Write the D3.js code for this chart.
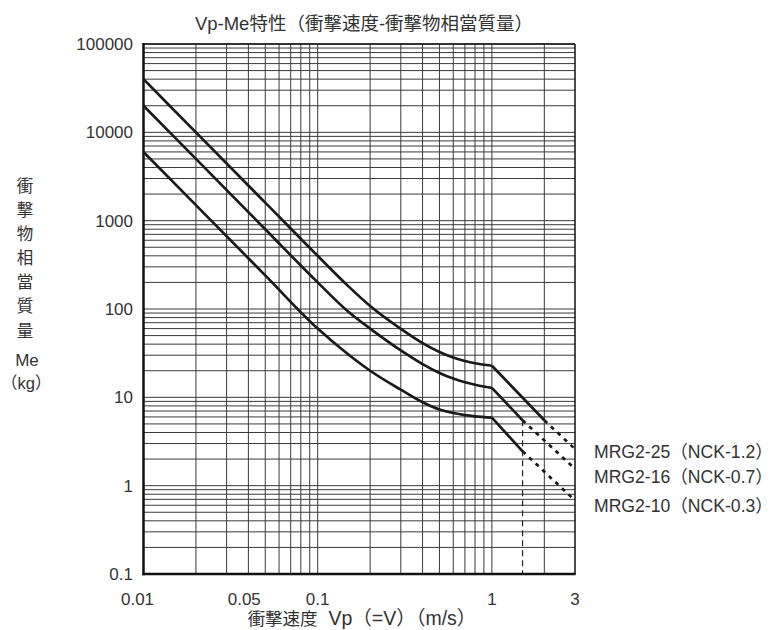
<!DOCTYPE html>
<html>
<head>
<meta charset="utf-8">
<script src="https://cdnjs.cloudflare.com/ajax/libs/d3/7.8.5/d3.min.js"></script>
<style>
  body { margin: 0; background: #fff; }
  text { font-family: "Liberation Sans", Arial, "Noto Sans CJK JP", sans-serif; fill: #333; }
</style>
</head>
<body>
<div id="chart"></div>
<script>
"use strict";

const speeds = [0.01, 0.02, 0.05, 0.1, 0.15, 0.2, 0.3, 0.4, 0.5, 0.6, 0.7, 0.8, 1];
// equivalent mass Me (kg) for each damper, curved part up to 1 m/s
const me25 = [40000, 10000, 1600, 400, 181, 108, 59.5, 41, 32.6, 28.2, 25.8, 24.3, 22.8];
const me16 = [20000, 5000, 800, 200, 93, 60, 34, 23.8, 18.9, 16.3, 14.8, 13.9, 12.8];
const me10 = [6000, 1500, 240, 60, 30.5, 20, 12.2, 8.8, 7.3, 6.65, 6.3, 6.1, 5.9];
// straight part after 1 m/s: [speed, Me] -> kink, end of solid, end of dashed
const tail25 = [[1, 22.8], [2, 5.5], [3, 2.6]];
const tail16 = [[1, 12.8], [1.5, 5.5], [3, 1.55]];
const tail10 = [[1, 5.9], [1.5, 2.45], [3, 0.68]];
const seriesNames = ["MRG2-25（NCK-1.2）", "MRG2-16（NCK-0.7）", "MRG2-10（NCK-0.3）"];
const xTicks = [0.01, 0.05, 0.1, 1, 3];
const yTicks = [0.1, 1, 10, 100, 1000, 10000, 100000];
const limitSpeed = 1.5;
const yTitle = ["衝", "撃", "物", "相", "當", "質", "量"];

function init() {
    draw();
};
window.onload = init;

function draw() {
    const W = 776, H = 630;
    const left = 143.5, right = 575, top = 44, bottom = 574;

    const svg = d3.select("#chart")
        .append("svg")
        .attr("width", W)
        .attr("height", H);

    const x = d3.scaleLog().domain([0.01, 3]).range([left, right]);
    const y = d3.scaleLog().domain([0.1, 100000]).range([bottom, top]);

    // grid: every 1..9 in each decade
    const grid = svg.append("g").attr("stroke", "#3a3a3a").attr("stroke-width", 1);
    grid.selectAll(".vx")
        .data(x.ticks().filter(d => d < 3))
        .join("line")
        .attr("x1", d => x(d)).attr("x2", d => x(d))
        .attr("y1", top).attr("y2", bottom);
    grid.selectAll(".hy")
        .data(y.ticks())
        .join("line")
        .attr("x1", left).attr("x2", right)
        .attr("y1", d => y(d)).attr("y2", d => y(d));

    // dashed limit line
    svg.append("line")
        .attr("x1", x(limitSpeed)).attr("x2", x(limitSpeed))
        .attr("y1", y(5.5)).attr("y2", bottom)
        .attr("stroke", "#222").attr("stroke-width", 1.2)
        .attr("stroke-dasharray", "6,4");

    // frame
    const frame = svg.append("g").attr("stroke", "#111");
    frame.append("line").attr("x1", left).attr("x2", right).attr("y1", top).attr("y2", top).attr("stroke-width", 1.5);
    frame.append("line").attr("x1", right).attr("x2", right).attr("y1", top).attr("y2", bottom).attr("stroke-width", 1.5);
    frame.append("line").attr("x1", left).attr("x2", left).attr("y1", top - 1).attr("y2", bottom + 1.2).attr("stroke-width", 2.5);
    frame.append("line").attr("x1", left - 1.2).attr("x2", right + 0.7).attr("y1", bottom).attr("y2", bottom).attr("stroke-width", 2.5);

    // curves
    const smooth = d3.line().x(d => x(d[0])).y(d => y(d[1])).curve(d3.curveMonotoneX);
    const straight = d3.line().x(d => x(d[0])).y(d => y(d[1]));
    const curves = [me25, me16, me10];
    const tails = [tail25, tail16, tail10];
    const g = svg.append("g").attr("fill", "none").attr("stroke", "#1a1a1a").attr("stroke-width", 2.7);

    curves.forEach(function(vals, i) {
        const pts = speeds.map((s, j) => [s, vals[j]]);
        g.append("path").attr("d", smooth(pts)).attr("stroke-linejoin", "round");
        g.append("path").attr("d", straight(tails[i].slice(0, 2))).attr("stroke-linejoin", "round");
        g.append("path").attr("d", straight(tails[i].slice(1, 3)))
            .attr("stroke-dasharray", "4,5");
    });

    // y tick labels
    svg.selectAll(".ylab")
        .data(yTicks)
        .join("text")
        .attr("x", 133)
        .attr("y", d => y(d))
        .attr("dy", "0.36em")
        .attr("text-anchor", "end")
        .attr("font-size", 17)
        .text(d => d);

    // x tick labels (0.05 sits a bit left in the original)
    svg.selectAll(".xlab")
        .data(xTicks)
        .join("text")
        .attr("x", d => x(d))
        .attr("dx", d => d === 0.05 ? -21 : (d === 0.01 ? -6 : 0))
        .attr("y", 605)
        .attr("text-anchor", "middle")
        .attr("font-size", 17)
        .text(d => d);

    // title
    svg.append("text")
        .attr("x", 364).attr("y", 30)
        .attr("text-anchor", "middle")
        .attr("font-size", 18.5)
        .text("Vp-Me特性（衝撃速度-衝撃物相當質量）");

    // x title: latin part is set a little larger in the original
    const xt = svg.append("text")
        .attr("x", 362).attr("y", 625)
        .attr("text-anchor", "middle")
        .attr("xml:space", "preserve");
    xt.append("tspan").attr("font-size", 17.5).text("衝撃速度");
    xt.append("tspan").attr("font-size", 19.5).text("  Vp（=V）（m/s）");

    // y title, stacked
    svg.selectAll(".ytitle")
        .data(yTitle)
        .join("text")
        .attr("x", 25)
        .attr("y", (d, i) => 186 + i * 24.1)
        .attr("dy", "0.36em")
        .attr("text-anchor", "middle")
        .attr("font-size", 16.5)
        .text(d => d);
    svg.append("text").attr("x", 27).attr("y", 360).attr("dy", "0.36em")
        .attr("text-anchor", "middle").attr("font-size", 17).text("Me");
    svg.append("text").attr("x", 1).attr("y", 383).attr("dy", "0.36em")
        .attr("font-size", 16.5).text("（kg）");

    // series labels at right
    const legendY = [452, 477, 506];
    svg.selectAll(".leg")
        .data(seriesNames)
        .join("text")
        .attr("x", 594)
        .attr("y", (d, i) => legendY[i])
        .attr("dy", "0.36em")
        .attr("font-size", 17.6)
        .text(d => d);
};
</script>
</body>
</html>
